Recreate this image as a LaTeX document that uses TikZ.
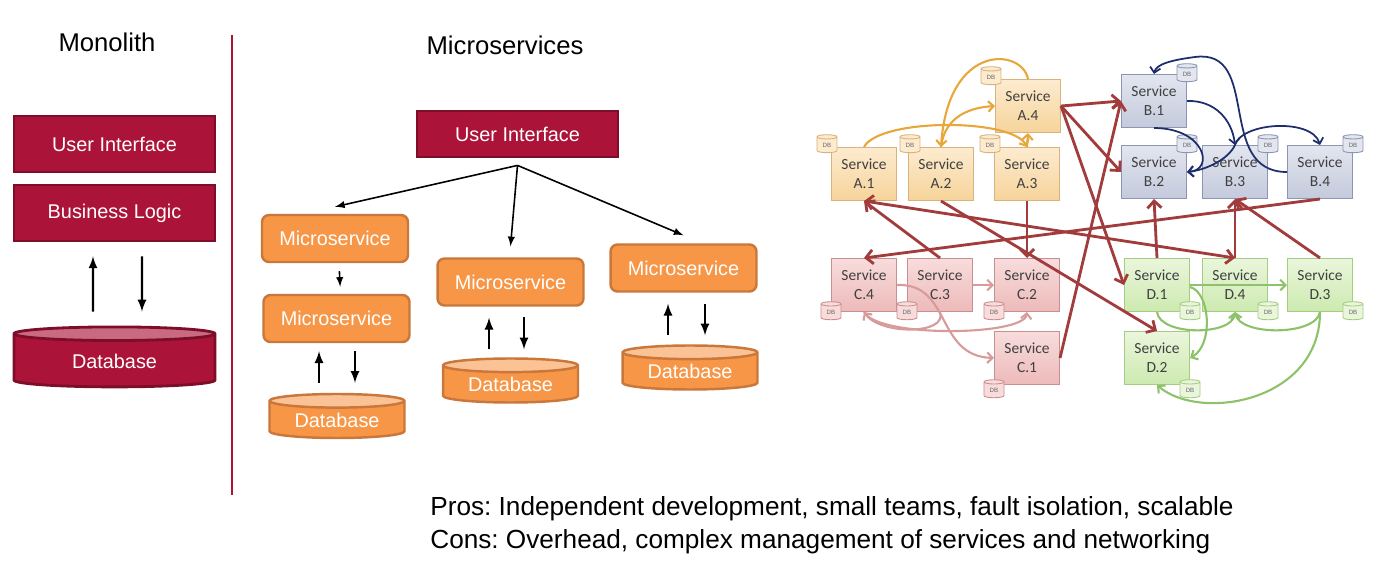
\documentclass[tikz,border=0pt]{standalone}
\usepackage{fontspec}
\setmainfont{Liberation Sans}
\newfontfamily\svcfont{Carlito}
\usepackage{tikz}
\usetikzlibrary{shapes.geometric, arrows.meta, calc}
\definecolor{monored}{HTML}{AC1338}
\definecolor{monoline}{HTML}{7D0E29}
\definecolor{monotop}{HTML}{C96A82}
\definecolor{msorange}{HTML}{F79646}
\definecolor{msline}{HTML}{C9773A}
\definecolor{mstop}{HTML}{FBC295}
\definecolor{aTop}{HTML}{FDEBCF}
\definecolor{aBot}{HTML}{F6D49A}
\definecolor{aLine}{HTML}{D9B27C}
\definecolor{bTop}{HTML}{E3E6EF}
\definecolor{bBot}{HTML}{C4CADC}
\definecolor{bLine}{HTML}{8C95B3}
\definecolor{cTop}{HTML}{F8DCDC}
\definecolor{cBot}{HTML}{EDBABA}
\definecolor{cLine}{HTML}{C98E8E}
\definecolor{dTop}{HTML}{EAF6DC}
\definecolor{dBot}{HTML}{CDEAB0}
\definecolor{dLine}{HTML}{A5CD82}
\definecolor{linkred}{HTML}{A23B3B}
\definecolor{linkorange}{HTML}{E7A73B}
\definecolor{linkblue}{HTML}{1E2D6C}
\definecolor{linkpink}{HTML}{D79B9B}
\definecolor{linkgreen}{HTML}{8DC26A}
\frenchspacing

\begin{document}
\begin{tikzpicture}[x = 0.02cm, y = -0.02cm,
    headtext/.style = {font = \fontsize{14.6}{17.5}\selectfont},
    boxtext/.style = {text = white, font = \fontsize{11.3}{13.5}\selectfont, inner sep = 0pt},
    monobox/.style = {boxtext, draw = monoline, fill = monored, line width = 1.6pt, minimum width = 4.02cm, minimum height = 1.12cm},
    monodb/.style = {boxtext, cylinder, shape border rotate = 90, aspect = 0.16, draw = monoline, line width = 1.6pt, cylinder uses custom fill, cylinder body fill = monored, cylinder end fill = monotop, minimum width = 4.02cm, minimum height = 1.2cm},
    msbox/.style = {boxtext, draw = msline, fill = msorange, line width = 1.4pt, rounded corners = 0.14cm, minimum width = 2.92cm, minimum height = 0.94cm},
    msdb/.style = {boxtext, cylinder, shape border rotate = 90, aspect = 0.16, draw = msline, line width = 1.4pt, cylinder uses custom fill, cylinder body fill = msorange, cylinder end fill = mstop, minimum width = 2.7cm, minimum height = 0.88cm},
    arr/.style = {-latex, line width = 1.3pt},
    fanarr/.style = {-latex, line width = 0.9pt},
    svc/.style = {draw, line width = 0.6pt, align = center, text = black!75, font = \svcfont\fontsize{8.8}{11}\selectfont, minimum width = 1.3cm, minimum height = 1.06cm, inner sep = 0pt},
    svcA/.style = {svc, draw = aLine, top color = aTop, bottom color = aBot},
    svcB/.style = {svc, draw = bLine, top color = bTop, bottom color = bBot},
    svcC/.style = {svc, draw = cLine, top color = cTop, bottom color = cBot},
    svcD/.style = {svc, draw = dLine, top color = dTop, bottom color = dBot},
    dbicon/.style = {cylinder, shape border rotate = 90, aspect = 0.5, line width = 0.5pt, inner sep = 0pt, minimum width = 0.4cm, minimum height = 0.36cm, text = black!60, font = \fontsize{3.5}{4}\selectfont},
    dbA/.style = {dbicon, draw = aLine, fill = aTop},
    dbB/.style = {dbicon, draw = bLine, fill = bTop},
    dbC/.style = {dbicon, draw = cLine, fill = cTop},
    dbD/.style = {dbicon, draw = dLine, fill = dTop},
    redarr/.style = {draw = linkred, line width = 1.6pt, -{Straight Barb[length = 4pt, width = 8pt]}},
    orarr/.style = {draw = linkorange, line width = 1.2pt, -{Straight Barb[length = 3pt, width = 6pt]}},
    bluearr/.style = {draw = linkblue, line width = 1pt, -{Straight Barb[length = 3pt, width = 6pt]}},
    pinkarr/.style = {draw = linkpink, line width = 1.2pt, -{Straight Barb[length = 3pt, width = 6pt]}},
    greenarr/.style = {draw = linkgreen, line width = 1.2pt, -{Straight Barb[length = 3pt, width = 6pt]}}]
    \useasboundingbox (0,0) rectangle (1375,562);
    % Monolith
    \node[headtext] (monohead) at (107,42) {Monolith};
    \node[monobox] (monoUI) at (114.5,144) {User Interface};
    \node[monobox] (monoBL) at (114.5,213) {Business Logic};
    \node[monodb] (monoDB) at (114.5,361) {Database};
    \draw[arr, shorten < = 0.28cm, shorten > = 0.28cm] ([xshift = -0.43cm]monoDB.north) -- ([xshift = -0.43cm]monoBL.south);
    \draw[arr, shorten < = 0.28cm, shorten > = 0.28cm] ([xshift = 0.55cm]monoBL.south) -- ([xshift = 0.55cm]monoDB.north);
    % Separatore
    \draw[monored, line width = 1.7pt] (232,35) -- (232,495);
    % Microservices
    \node[headtext] (mshead) at (505,45) {Microservices};
    \node[monobox, minimum height = 0.92cm] (msUI) at (517.5,134) {User Interface};
    \node[msbox] (ms1) at (335,238.5) {Microservice};
    \node[msbox] (ms2) at (336.5,318.5) {Microservice};
    \node[msbox] (ms3) at (510.5,282) {Microservice};
    \node[msbox] (ms4) at (683.5,268) {Microservice};
    \node[msdb] (db1) at (337,420) {Database};
    \node[msdb] (db2) at (510.5,384.5) {Database};
    \node[msdb] (db3) at (690,371.5) {Database};
    \coordinate (hub) at ([yshift = -0.14cm]msUI.south);
    \draw[fanarr] (hub) -- ([yshift = 0.14cm]ms1.north);
    \draw[fanarr] (hub) -- ([yshift = 0.22cm]ms3.north);
    \draw[fanarr] (hub) -- ([yshift = 0.16cm]ms4.north);
    \draw[fanarr, shorten < = 0.16cm, shorten > = 0.14cm] ([xshift = 0.08cm]ms1.south) -- ([xshift = 0.08cm]ms2.north);
    % frecce verso i database
    \coordinate (up1) at ([xshift = -0.35cm]ms2.south);
    \coordinate (dn1) at ([xshift = 0.37cm]ms2.south);
    \coordinate (up2) at ([xshift = -0.43cm]ms3.south);
    \coordinate (dn2) at ([xshift = 0.27cm]ms3.south);
    \coordinate (up3) at ([xshift = -0.31cm]ms4.south);
    \coordinate (dn3) at ([xshift = 0.43cm]ms4.south);
    \draw[arr, shorten < = 0.2cm, shorten > = 0.16cm] (up1 |- db1.north) -- (up1);
    \draw[arr, shorten < = 0.16cm, shorten > = 0.2cm] (dn1) -- (dn1 |- db1.north);
    \draw[arr, shorten < = 0.16cm, shorten > = 0.22cm] (up2 |- db2.north) -- (up2);
    \draw[arr, shorten < = 0.2cm, shorten > = 0.16cm] (dn2) -- (dn2 |- db2.north);
    \draw[arr, shorten < = 0.18cm, shorten > = 0.22cm] (up3 |- db3.north) -- (up3);
    \draw[arr, shorten < = 0.22cm, shorten > = 0.18cm] (dn3) -- (dn3 |- db3.north);
    % Servizi
    \node[svcA] (a1) at (864,174) {Service\\A.1};
    \node[svcA] (a2) at (941,174) {Service\\A.2};
    \node[svcA] (a3) at (1027,174) {Service\\A.3};
    \node[svcA] (a4) at (1028,106) {Service\\A.4};
    \node[svcB] (b1) at (1154,101) {Service\\B.1};
    \node[svcB] (b2) at (1154,172) {Service\\B.2};
    \node[svcB] (b3) at (1235,172) {Service\\B.3};
    \node[svcB] (b4) at (1320,172) {Service\\B.4};
    \node[svcC] (c4) at (864,285) {Service\\C.4};
    \node[svcC] (c3) at (940,285) {Service\\C.3};
    \node[svcC] (c2) at (1027,285) {Service\\C.2};
    \node[svcC] (c1) at (1027,358) {Service\\C.1};
    \node[svcD] (d1) at (1157,285) {Service\\D.1};
    \node[svcD] (d4) at (1235,285) {Service\\D.4};
    \node[svcD] (d3) at (1320,285) {Service\\D.3};
    \node[svcD] (d2) at (1157,358) {Service\\D.2};
    % DB
    \node[dbA] (a1db) at ([xshift = -0.08cm, yshift = 0.04cm]a1.north west) {DB};
    \node[dbA] (a2db) at ([xshift = 0.04cm, yshift = 0.04cm]a2.north west) {DB};
    \node[dbA] (a3db) at ([xshift = -0.08cm, yshift = 0.04cm]a3.north west) {DB};
    \node[dbA] (a4db) at ([xshift = -0.08cm, yshift = 0.04cm]a4.north west) {DB};
    \node[dbB] (b1db) at (b1.north east) {DB};
    \node[dbB] (b2db) at (b2.north east) {DB};
    \node[dbB] (b3db) at (b3.north east) {DB};
    \node[dbB] (b4db) at (b4.north east) {DB};
    \node[dbC] (c4db) at (c4.south west) {DB};
    \node[dbC] (c3db) at (c3.south west) {DB};
    \node[dbC] (c2db) at (c2.south west) {DB};
    \node[dbC] (c1db) at ([yshift = -0.1cm]c1.south west) {DB};
    \node[dbD] (d1db) at (d1.south east) {DB};
    \node[dbD] (d4db) at (d4.south east) {DB};
    \node[dbD] (d3db) at (d3.south east) {DB};
    \node[dbD] (d2db) at ([yshift = -0.1cm]d2.south east) {DB};
    % Frecce interne
    \draw[orarr] (a1.north) .. controls (880,118) and (1012,118) .. (a3.north);
    \draw[orarr] (a2.north) .. controls (944,122) and (962,108) .. (a4.west);
    \draw[orarr] (a4.north) .. controls (1022,48) and (948,42) .. (a2.north);
    \draw[orarr] (a3.north) -- (a4.south);
    \draw[bluearr] (b4.west) .. controls (1215,172) and (1262,48) .. (1195,57) .. controls (1172,60) and (1156,64) .. (b1.north);
    \draw[bluearr] (b1.east) .. controls (1215,100) and (1232,120) .. (b3.north);
    \draw[bluearr] (b1.south) .. controls (1205,128) and (1215,170) .. (b2.east);
    \draw[bluearr] (b3.north) .. controls (1242,122) and (1312,118) .. (b4.north);
    \draw[bluearr] (b3.north) .. controls (1228,160) and (1205,170) .. (b2.east);
    \draw[pinkarr] (c3.east) -- (c2.west);
    \draw[pinkarr] (c4.east) .. controls (952,283) and (935,356) .. (c1.west);
    \draw[pinkarr] (c3.south) .. controls (948,335) and (880,335) .. (c4.south);
    \draw[pinkarr] (c4.south) .. controls (878,338) and (1024,336) .. (c2.south);
    \draw[greenarr] (d1.east) -- (d3.west);
    \draw[greenarr] (d1.south) .. controls (1160,336) and (1232,336) .. (d4.south);
    \draw[greenarr] (d3.south) .. controls (1316,336) and (1240,336) .. (d4.south);
    \draw[greenarr] ([yshift = -0.04cm]d1.east) .. controls (1210,292) and (1214,345) .. (d2.east);
    \draw[greenarr] (d3.south) .. controls (1320,402) and (1200,422) .. (d2.south);
    % Frecce tra gruppi
    \draw[redarr] (a4.east) -- (b1.west);
    \draw[redarr] (a4.east) -- (b2.west);
    \draw[redarr] (a4.east) -- (d1.west);
    \draw[redarr] (a2.south) -- (d2.north);
    \draw[redarr] (a3.south) -- (c2.north);
    \draw[redarr] (c3.north) -- (a1.south);
    \draw[redarr] (b4.south) -- (c4.north);
    \draw[redarr] (c1.east) -- (b1.west);
    \draw[redarr] (d1.north) -- (b2.south);
    \draw[redarr] (d4.north) -- (b3.south);
    \draw[redarr] (d3.north) -- (b3.south);
    \draw[redarr, {Straight Barb[length = 4pt, width = 8pt]}-{Straight Barb[length = 4pt, width = 8pt]}] (a1.south) -- (d4.north);
    % Pro e contro
    \node[anchor = west, align = left, inner sep = 0pt, font = \fontsize{14.9}{18.7}\selectfont] (proscons) at (430,525) {Pros: Independent development, small teams, fault isolation, scalable\\Cons: Overhead, complex management of services and networking};
\end{tikzpicture}
\end{document}
